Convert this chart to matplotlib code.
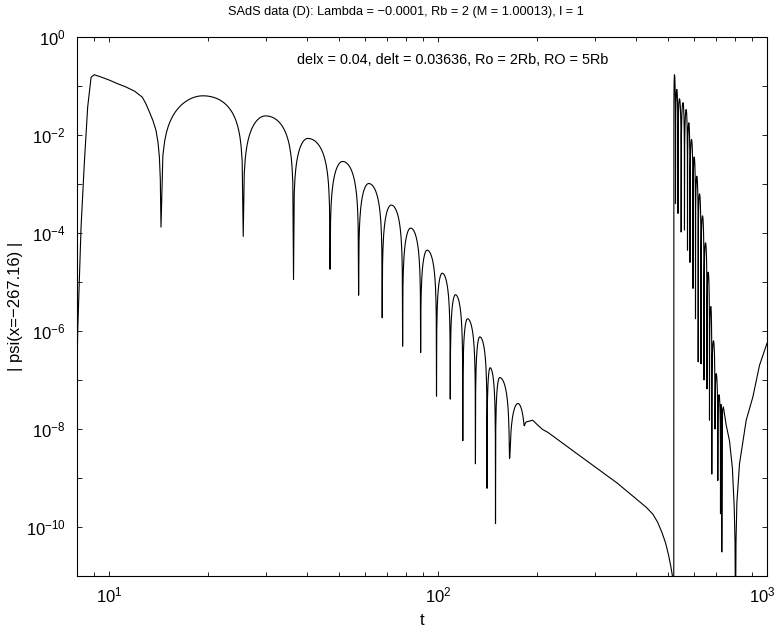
import numpy as np
import matplotlib.pyplot as plt
from matplotlib.ticker import FixedLocator, FixedFormatter, NullLocator, NullFormatter

plt.rcParams['font.family'] = ['Liberation Sans', 'DejaVu Sans']
plt.rcParams['mathtext.default'] = 'regular'

# values below are log10|psi|

# start-up and first lobe
head_t = [8.0, 8.04, 8.13, 8.17, 8.23, 8.42, 8.62, 8.83, 9.03, 9.5, 10.03, 10.6, 11.27, 12.0, 12.64,
          12.95, 13.28, 13.6, 13.9, 14.1, 14.24, 14.33]
head_y = [-6.8, -5.99, -4.97, -4.55, -3.88, -2.58, -1.43, -0.82, -0.77, -0.82, -0.88, -0.95, -1.02, -1.11, -1.23,
          -1.36, -1.53, -1.70, -1.90, -2.15, -2.45, -2.9]

# quasinormal ringing: zeros (dips) and lobe maxima
qnm_dip_t = [14.4, 25.6, 36.4, 47.0, 57.4, 67.7, 78.1, 88.6, 99.0, 109, 119, 130, 141, 149.6, 165, 185]
qnm_dip_y = [-3.88, -4.07, -4.95, -4.74, -5.27, -5.73, -6.31, -6.44, -7.33, -7.39, -8.24, -8.71, -9.21, -9.93, -8.60, -7.86]
qnm_peak_t = [19.3, 29.9, 40.2, 51.3, 61.6, 72.1, 82.6, 92.7, 103, 113, 123, 134, 144, 154, 175]
qnm_peak_y = [-1.20, -1.61, -2.07, -2.54, -2.99, -3.43, -3.90, -4.35, -4.82, -5.26, -5.75, -6.12, -6.75, -6.95, -7.48]

# power-law tail
tail_t = [194, 201, 208, 216, 269, 350, 430, 450, 465, 480, 492, 502, 510, 516, 519]
tail_y = [-7.82, -7.92, -8.01, -8.07, -8.54, -9.1, -9.60, -9.74, -9.90, -10.12, -10.33, -10.57, -10.8, -11.0, -11.3]

# reflected pulse ringing
ring_dip_t = [520.8, 527.1, 536.4, 548.5, 561.3, 573.3, 583.4, 595.8, 606.3, 617.9, 630.1,
              643.5, 657.1, 668.7, 679.6, 694.9, 708.8, 722.3, 728.8]
ring_dip_y = [-12, -3.4, -3.6, -3.98, -3.94, -4.35, -4.6, -5.13, -5.75, -6.63, -6.67,
              -7.0, -7.18, -7.82, -8.92, -8.0, -9.05, -9.73, -10.51]
ring_peak_t = [523.4, 531.9, 542.0, 555.5, 568.0, 578.5, 589.5, 600.8, 611.8, 623.5, 636.8,
               650.4, 662.7, 674.9, 687.7, 700.9, 714.7, 724.8]
ring_peak_y = [-0.77, -1.07, -1.26, -1.34, -1.48, -1.75, -2.09, -2.45, -2.84, -3.2, -3.65,
               -4.2, -4.8, -5.5, -6.2, -6.87, -7.3, -7.5]

# late part
end_t = [730.5, 733, 737, 745, 751.6, 769.1, 785, 795, 799.5, 802.2, 805, 810, 825, 864.6, 905.5, 949, 1000]
end_y = [-8.3, -7.6, -7.55, -7.75, -7.92, -8.24, -8.8, -9.6, -10.3, -12, -10.3, -9.5, -8.71, -7.82, -7.35, -6.7, -6.25]

x_major = [10, 100, 1000]
x_labels = ['$10^{1}$', '$10^{2}$', '$10^{3}$']


def lobes(dip_t, dip_y, peak_t, peak_y, n=60):
    tt, yy = [], []
    for i in range(len(peak_t)):
        d0, d1, tp = dip_t[i], dip_t[i + 1], peak_t[i]
        t = np.linspace(d0, d1, n)
        ph = np.where(t <= tp, (t - d0) / (tp - d0) * np.pi / 2,
                      np.pi / 2 + (t - tp) / (d1 - tp) * np.pi / 2)
        with np.errstate(divide='ignore'):
            ly = peak_y[i] + np.log10(np.abs(np.sin(ph)))
        floor = dip_y[i] + (dip_y[i + 1] - dip_y[i]) * (t - d0) / (d1 - d0)
        tt.append(t)
        yy.append(np.maximum(ly, floor))
    return np.concatenate(tt), np.concatenate(yy)


q_t, q_y = lobes(qnm_dip_t, qnm_dip_y, qnm_peak_t, qnm_peak_y)
r_t, r_y = lobes(ring_dip_t, ring_dip_y, ring_peak_t, ring_peak_y, n=30)

t_all = np.concatenate([head_t, q_t, tail_t, r_t, end_t])
y_all = np.concatenate([head_y, q_y, tail_y, r_y, end_y])

fig = plt.figure(figsize=(7.78, 6.29), dpi=100)
ax = fig.add_axes([77 / 778, 1 - 576 / 629, 690 / 778, 539 / 629])
ax.plot(t_all, 10.0 ** y_all, color='black', lw=0.8)

ax.set_xscale('log')
ax.set_yscale('log')
ax.set_xlim(8, 1000)
ax.set_ylim(1e-11, 1)

ydec = list(range(-11, 1))
ax.yaxis.set_major_locator(FixedLocator([10.0 ** k for k in ydec]))
ax.yaxis.set_major_formatter(FixedFormatter(
    ['$10^{%d}$' % k if k % 2 == 0 else '' for k in ydec]))
ax.yaxis.set_minor_locator(NullLocator())

ax.xaxis.set_major_locator(FixedLocator(x_major))
ax.xaxis.set_major_formatter(NullFormatter())
minor = [m * 10 ** e for e in (0, 1, 2) for m in range(2, 10) if 8 <= m * 10 ** e <= 1000]
ax.xaxis.set_minor_locator(FixedLocator(minor))
ax.xaxis.set_minor_formatter(NullFormatter())

# x tick labels drawn by hand so 10^3 stays inside the figure
for i, (xv, lab) in enumerate(zip(x_major, x_labels)):
    dx = -3.5 if i == len(x_major) - 1 else 0
    ax.annotate(lab, xy=(xv, 0), xycoords=('data', 'axes fraction'),
                xytext=(dx, -7), textcoords='offset points',
                ha='center', va='top', fontsize=12)

ax.tick_params(which='both', direction='in', top=True, right=True, width=0.6, labelsize=12)
ax.tick_params(which='major', length=3.8)
ax.tick_params(which='minor', length=2.6)
ax.tick_params(axis='y', which='major', pad=8)
for s in ax.spines.values():
    s.set_linewidth(0.8)

ax.set_xlabel('t', fontsize=12, labelpad=23)
ax.set_ylabel('| psi(x=\u2212267.16) |', fontsize=12, labelpad=2)
fig.text(406 / 778, 1 - 12 / 629, 'SAdS data (D): Lambda = \u22120.0001, Rb = 2 (M = 1.00013), l = 1',
         ha='center', va='center', fontsize=9.2)
ax.text(0.545, 0.957, 'delx = 0.04, delt = 0.03636, Ro = 2Rb, RO = 5Rb',
        transform=ax.transAxes, ha='center', va='center', fontsize=10.4)

fig.savefig('out.png', dpi=100)
